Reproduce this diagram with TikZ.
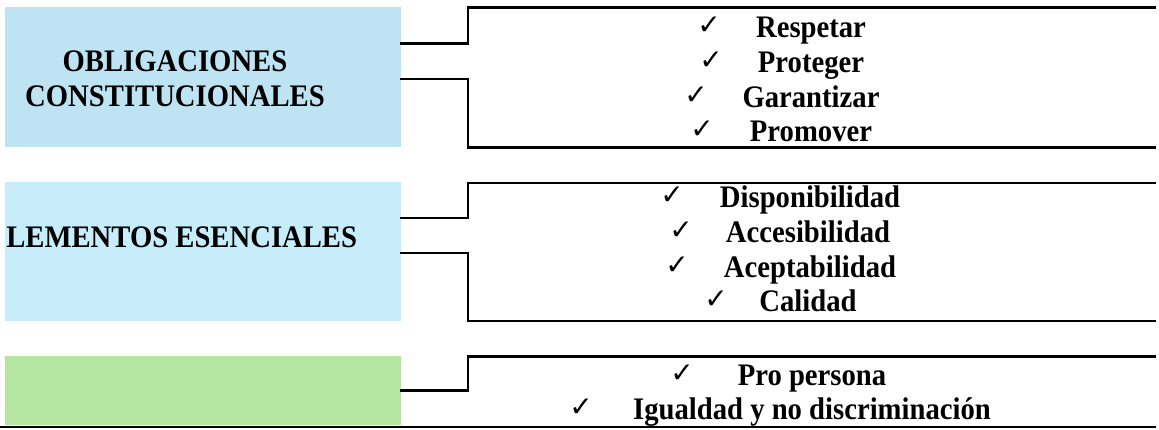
\documentclass[tikz,border=0pt]{standalone}
\usepackage{fontspec}
\setmainfont{Liberation Serif}[FakeStretch=0.915]
\newfontfamily\chkfont{DejaVu Sans}
\usetikzlibrary{calc}
\definecolor{boxa}{RGB}{190,227,242}
\definecolor{boxb}{RGB}{199,236,250}
\definecolor{boxc}{RGB}{180,229,161}
\begin{document}
\begin{tikzpicture}[x=0.75pt,y=-0.75pt,
  conn/.style={line width=1.9pt, line cap=rect},
  catbox/.style={draw=none, anchor=north west, inner sep=0pt, minimum width=297pt},
  head/.style={anchor=base, inner sep=0pt, font=\fontsize{23.5}{27}\selectfont\bfseries},
  item/.style={anchor=base, inner sep=0pt, font=\fontsize{23.5}{27}\selectfont\bfseries},
  chk/.style={anchor=base east, inner sep=0pt, font=\chkfont\fontsize{21}{24}\selectfont}]
\useasboundingbox (0,0) rectangle (1159,429);

% category boxes
\node[catbox, fill=boxa, minimum height=105pt] (b1) at (5,7) {};
\node[catbox, fill=boxb, minimum height=104.25pt] (b2) at (5,182) {};
\node[catbox, fill=boxc, minimum height=51.75pt] (b3) at (5,356) {};

\node[head] (h1a) at (175,71) {OBLIGACIONES};
\node[head] (h1b) at (175,106) {CONSTITUCIONALES};
\node[head, anchor=base west] (h2) at (6,247) {LEMENTOS ESENCIALES};

% frame coordinates
\coordinate (t1) at (468,7.7);   \coordinate (t1e) at (1155,7.7);
\coordinate (u1) at (468,147.7); \coordinate (u1e) at (1155,147.7);
\coordinate (t2) at (468,183);   \coordinate (t2e) at (1155,183);
\coordinate (u2) at (468,321);   \coordinate (u2e) at (1155,321);
\coordinate (t3) at (468,356.5); \coordinate (t3e) at (1155,356.5);
\coordinate (u3s) at (0,427);    \coordinate (u3e) at (1155,427);

% connectors
\draw[conn] ($(b1.north east)+(0,36.7)$) -| (t1) -- (t1e);
\draw[conn] ($(b1.north east)+(0,72)$) -| (u1) -- (u1e);
\draw[conn] ($(b2.north east)+(0,36)$) -| (t2) -- (t2e);
\draw[conn] ($(b2.north east)+(0,71)$) -| (u2) -- (u2e);
\draw[conn] ($(b3.north east)+(0,34.7)$) -| (t3) -- (t3e);
\draw[conn] (u3s) -- (u3e);

% list 1
\node[item] (r1) at (811,37) {Respetar};
\node[item] (r2) at (811,72) {Proteger};
\node[item] (r3) at (811,107) {Garantizar};
\node[item] (r4) at (811,141) {Promover};
\node[chk] (c1) at (721,34) {✓};
\node[chk] (c2) at (723,69) {✓};
\node[chk] (c3) at (708,104) {✓};
\node[chk] (c4) at (714,138) {✓};

% list 2
\node[item] (s1) at (810,207) {Disponibilidad};
\node[item] (s2) at (808,242) {Accesibilidad};
\node[item] (s3) at (810,277) {Aceptabilidad};
\node[item] (s4) at (808,311) {Calidad};
\node[chk] (d1) at (684,204) {✓};
\node[chk] (d2) at (693,239) {✓};
\node[chk] (d3) at (689,274) {✓};
\node[chk] (d4) at (728,308) {✓};

% list 3
\node[item] (p1) at (812,385) {Pro persona};
\node[item] (p2) at (812,419) {Igualdad y no discriminación};
\node[chk] (e1) at (694,382) {✓};
\node[chk] (e2) at (593,416) {✓};
\end{tikzpicture}
\end{document}
